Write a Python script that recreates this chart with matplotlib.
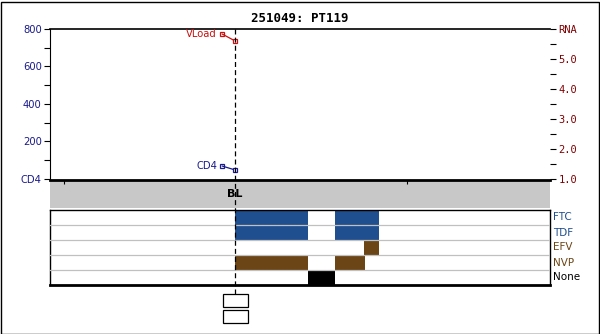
import matplotlib

matplotlib.use("Agg")
import matplotlib.pyplot as plt
import matplotlib.transforms as mtransforms
from matplotlib.lines import Line2D
from matplotlib.patches import Rectangle

OUTPUT = "out.png"

TITLE = "251049: PT119"

# x axis in days relative to baseline
X_MIN, X_MAX = -394, 670
X_TICKS = [-365, 365]
BL_DAY = 0

# lab values at baseline
CD4_DAYS = [0]
CD4_VALUES = [48]
VLOAD_DAYS = [0]
VLOAD_LOG = [5.6]

CD4_TICKS = [0, 200, 400, 600, 800]
CD4_LABELS = ["CD4", "200", "400", "600", "800"]
RNA_TICKS = [1, 2, 3, 4, 5, 6]
RNA_LABELS = ["1.0", "2.0", "3.0", "4.0", "5.0", "RNA"]

# drug rows, top to bottom: (start day, duration)
DRUGS = ["FTC", "TDF", "EFV", "NVP", "None"]
DRUG_SEGMENTS = [
    [(0, 155), (213, 94)],
    [(0, 155), (213, 94)],
    [(275, 32)],
    [(0, 155), (213, 64)],
    [(155, 58)],
]
DRUG_COLORS = ["#204f8f", "#204f8f", "#6b4515", "#6b4515", "#000000"]

NAVY = "#1a1a8c"
DARK_RED = "#800000"
RED = "#cc1010"

W, H = 600, 334


def px_box(x0, y0, x1, y1):
    """pixel box (top-left origin) -> figure fraction rect"""
    return [x0 / W, 1 - y1 / H, (x1 - x0) / W, (y1 - y0) / H]


fig = plt.figure(figsize=(6, 3.34), dpi=100)
fig.patch.set_facecolor("white")

# ---- top lab panel
ax = fig.add_axes(px_box(50, 29, 550, 179))
ax.set_xlim(X_MIN, X_MAX)
ax.set_ylim(0, 800)
ax.set_xticks([])
ax.set_yticks(CD4_TICKS)
ax.set_yticklabels(CD4_LABELS)
ax.set_yticks([100, 300, 500, 700], minor=True)
ax.tick_params(axis="y", which="both", direction="out", length=4, width=0.8,
               labelsize=7.2, labelcolor=NAVY, pad=2)
for s in ["right", "bottom"]:
    ax.spines[s].set_visible(False)
ax.spines["left"].set_linewidth(0.8)
ax.spines["top"].set_linewidth(1.2)

ax2 = ax.twinx()
ax2.set_ylim(1, 6)
ax2.set_yticks(RNA_TICKS)
ax2.set_yticklabels(RNA_LABELS, family="DejaVu Sans Mono")
ax2.set_yticks([1.5, 2.5, 3.5, 4.5, 5.5], minor=True)
ax2.tick_params(axis="y", which="both", direction="out", length=4, width=0.8,
                labelsize=7.5, labelcolor=DARK_RED, pad=2)
for s in ["left", "right", "bottom", "top"]:
    ax2.spines[s].set_visible(False)

# data points with offset labels
lab_off = mtransforms.offset_copy(ax.transData, fig=fig, x=-13, y=4, units="dots")
ax.plot(CD4_DAYS, CD4_VALUES, "s", ms=3.5, mfc="white", mec=NAVY, mew=0.9, zorder=5)
ax.plot(CD4_DAYS, CD4_VALUES, "s", ms=3.5, mfc="white", mec=NAVY, mew=0.9,
        transform=lab_off, clip_on=False)
ax.annotate("", xy=(CD4_DAYS[0], CD4_VALUES[0]), xytext=(-13, 4),
            textcoords="offset pixels",
            arrowprops=dict(arrowstyle="-", color=NAVY, lw=0.9,
                            shrinkA=0, shrinkB=0))
ax.annotate("CD4", xy=(CD4_DAYS[0], CD4_VALUES[0]), xytext=(-18, 4),
            textcoords="offset pixels", ha="right", va="center",
            fontsize=7.2, color=NAVY)

vl_off = mtransforms.offset_copy(ax2.transData, fig=fig, x=-13, y=7, units="dots")
ax2.plot(VLOAD_DAYS, VLOAD_LOG, "s", ms=3.5, mfc="white", mec=RED, mew=0.9, zorder=5)
ax2.plot(VLOAD_DAYS, VLOAD_LOG, "s", ms=3.5, mfc="white", mec=RED, mew=0.9,
         transform=vl_off, clip_on=False)
ax2.annotate("", xy=(VLOAD_DAYS[0], VLOAD_LOG[0]), xytext=(-13, 7),
             textcoords="offset pixels",
             arrowprops=dict(arrowstyle="-", color=RED, lw=0.9,
                             shrinkA=0, shrinkB=0))
ax2.annotate("VLoad", xy=(VLOAD_DAYS[0], VLOAD_LOG[0]), xytext=(-18, 7),
             textcoords="offset pixels", ha="right", va="center",
             fontsize=7.2, color=RED)

# ---- grey time band
axb = fig.add_axes(px_box(50, 180, 550, 208))
axb.set_facecolor("#c8c8c8")
axb.set_xlim(X_MIN, X_MAX)
axb.set_ylim(0, 1)
axb.set_yticks([])
axb.set_xticks(X_TICKS)
axb.set_xticklabels([])
axb.tick_params(axis="x", direction="in", top=True, bottom=False, length=3, width=0.8)
for s in ["left", "right", "bottom"]:
    axb.spines[s].set_visible(False)
axb.spines["top"].set_linewidth(2)
axb.text(BL_DAY, 0.5, "BL", ha="center", va="center", fontsize=8,
         fontweight="bold")

# ---- drug panel
axd = fig.add_axes(px_box(50, 210, 550, 285))
axd.set_xlim(X_MIN, X_MAX)
axd.set_ylim(0, len(DRUGS))
axd.set_xticks([])
axd.set_yticks([])
n = len(DRUGS)
for i, (segs, col) in enumerate(zip(DRUG_SEGMENTS, DRUG_COLORS)):
    axd.broken_barh(segs, (n - 1 - i, 1), facecolors=col, zorder=2)
for k in range(1, n):
    axd.axhline(k, color="#c0c0c0", lw=0.9, zorder=3)
for s in ["left", "right", "top"]:
    axd.spines[s].set_linewidth(1)
axd.spines["bottom"].set_linewidth(2)
for i, (name, col) in enumerate(zip(DRUGS, DRUG_COLORS)):
    axd.text(1.006, (n - 0.5 - i) / n, name, transform=axd.transAxes,
             ha="left", va="center", fontsize=7.5, color=col)

# ---- baseline dashed marker across panels
blend = mtransforms.blended_transform_factory(ax.transData, fig.transFigure)
fig.add_artist(Line2D([BL_DAY, BL_DAY], [1 - 29 / H, 1 - 294 / H], transform=blend,
                      color="black", lw=0.9, ls=(0, (4, 2.5)), zorder=10))

# empty label boxes under baseline
for y0 in (294, 310):
    fig.add_artist(Rectangle((223 / W, 1 - (y0 + 13) / H), 25 / W, 13 / H,
                             transform=fig.transFigure, fill=False,
                             ec="black", lw=0.9))

fig.suptitle(TITLE, x=0.5, y=1 - 19 / H, va="center", fontsize=9,
             fontweight="bold", family="DejaVu Sans Mono")

fig.add_artist(Rectangle((0.5 / W, 0.5 / H), (W - 2) / W, (H - 2) / H,
                         transform=fig.transFigure, fill=False,
                         ec="black", lw=1))

fig.savefig(OUTPUT, dpi=100)
plt.close(fig)
